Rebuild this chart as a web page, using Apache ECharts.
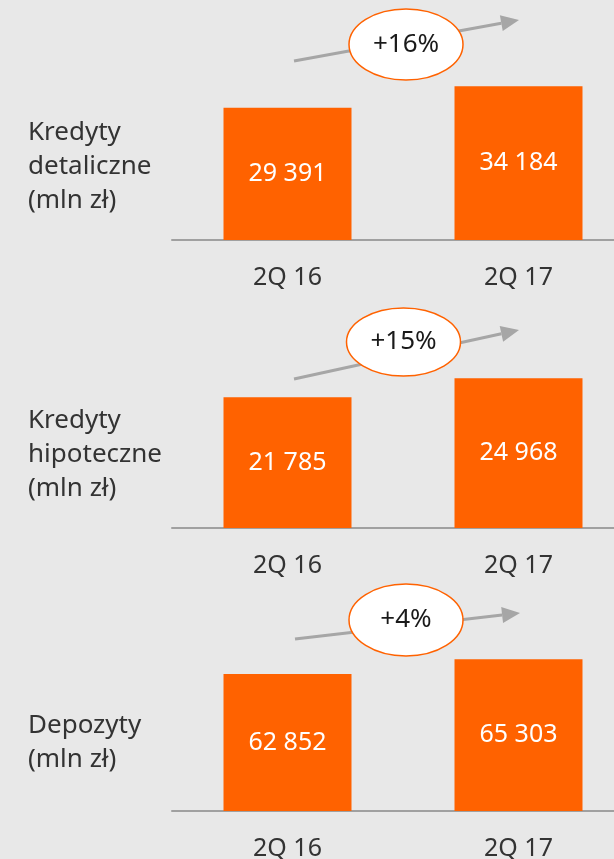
<!DOCTYPE html>
<html>
<head>
<meta charset="utf-8">
<script src="https://cdn.jsdelivr.net/npm/echarts@6/dist/echarts.min.js"></script>
<style>
html,body{margin:0;padding:0;background:#e8e8e8;}
#chart{width:614px;height:859px;}
</style>
</head>
<body>
<div id="chart"></div>
<script>
// ---- data ----
const categories = ['2Q 16', '2Q 17'];
const panelTitles = ['Kredyty\ndetaliczne\n(mln zł)', 'Kredyty\nhipoteczne\n(mln zł)', 'Depozyty\n(mln zł)'];
const retailLoans = [29391, 34184];
const mortgageLoans = [21785, 24968];
const deposits = [62852, 65303];
const growthLabels = ['+16%', '+15%', '+4%'];
const seriesValues = [retailLoans, mortgageLoans, deposits];

// ---- layout ----
const FONT = '"Noto Sans", sans-serif';
const ORANGE = '#ff6200';
const TEXT = '#333333';
const gridTops = [60, 348, 631];
const gridH = 180;
const yMins = [0, 0, 40000];
const yMaxs = [40000, 30000, 70000];
const titleTops = [116, 404, 709];
// arrow start/end & ellipse centres (annotation decoration)
const arrows = [
  {x1: 294, y1: 61, x2: 519, y2: 20, cx: 406, cy: 44.5, ry: 35.5},
  {x1: 294, y1: 379, x2: 519, y2: 330, cx: 403.5, cy: 342, ry: 34},
  {x1: 295, y1: 639, x2: 520, y2: 613, cx: 406, cy: 620, ry: 36}
];

const grids = [], xAxes = [], yAxes = [], series = [], titles = [], graphics = [];
for (let i = 0; i < 3; i++) {
  grids.push({left: 172, width: 462, top: gridTops[i], height: gridH, containLabel: false, outerBoundsMode: 'none'});
  xAxes.push({
    type: 'category', gridIndex: i, data: categories,
    axisLine: {show: true, lineStyle: {color: '#a0a0a0', width: 2}},
    axisTick: {show: false},
    axisLabel: {color: TEXT, fontSize: 25, fontFamily: FONT, margin: 25}
  });
  yAxes.push({
    type: 'value', gridIndex: i, min: yMins[i], max: yMaxs[i],
    show: false, splitLine: {show: false}
  });
  series.push({
    type: 'bar', xAxisIndex: i, yAxisIndex: i, data: seriesValues[i],
    barWidth: 128,
    itemStyle: {color: ORANGE},
    label: {
      show: true, position: 'inside', color: '#ffffff', fontSize: 25, fontFamily: FONT,
      formatter: p => String(p.value).replace(/\B(?=(\d{3})+(?!\d))/g, ' ')
    },
    silent: true, animation: false
  });
  titles.push({
    text: panelTitles[i], left: 28, top: titleTops[i], padding: 0,
    textStyle: {color: TEXT, fontSize: 26, fontWeight: 'normal', fontFamily: FONT, lineHeight: 34}
  });
  const a = arrows[i];
  const ang = Math.atan2(a.y2 - a.y1, a.x2 - a.x1);
  const hl = 18, hw = 8;
  const bx = a.x2 - hl * Math.cos(ang), by = a.y2 - hl * Math.sin(ang);
  const px = -Math.sin(ang), py = Math.cos(ang);
  graphics.push({
    type: 'line', silent: true, z: 10,
    shape: {x1: a.x1, y1: a.y1, x2: bx, y2: by},
    style: {stroke: '#a6a6a6', lineWidth: 3}
  });
  graphics.push({
    type: 'polygon', silent: true, z: 10,
    shape: {points: [[a.x2, a.y2], [bx + px * hw, by + py * hw], [bx - px * hw, by - py * hw]]},
    style: {fill: '#a6a6a6'}
  });
  graphics.push({
    type: 'ellipse', silent: true, z: 11,
    shape: {cx: a.cx, cy: a.cy, rx: 57, ry: a.ry},
    style: {fill: '#ffffff', stroke: ORANGE, lineWidth: 1.5}
  });
  graphics.push({
    type: 'text', silent: true, z: 12,
    x: a.cx, y: a.cy,
    style: {text: growthLabels[i], fill: '#1a1a1a', font: '26px ' + FONT, align: 'center', verticalAlign: 'middle'}
  });
}

const chart = echarts.init(document.getElementById('chart'));
chart.setOption({
  backgroundColor: '#e8e8e8',
  animation: false,
  title: titles,
  grid: grids,
  xAxis: xAxes,
  yAxis: yAxes,
  series: series,
  graphic: graphics
});
</script>
</body>
</html>
